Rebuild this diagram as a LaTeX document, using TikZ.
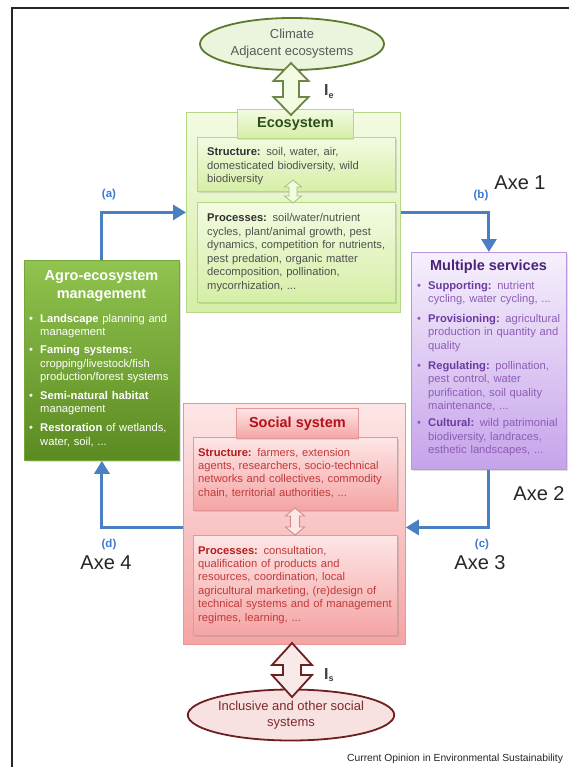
\documentclass[tikz,border=0pt]{standalone}
\usepackage{fontspec}
\setmainfont{Liberation Sans}
\usetikzlibrary{shapes.geometric,arrows.meta,shadows,calc}
\definecolor{ecoT}{HTML}{F3FBE2}
\definecolor{ecoB}{HTML}{D6EEA6}
\definecolor{ecoLine}{HTML}{B3D888}
\definecolor{ecoTitle}{HTML}{2C4F1C}
\definecolor{ecoTxt}{HTML}{505050}
\definecolor{ecoBold}{HTML}{303030}
\definecolor{agroT}{HTML}{90C34F}
\definecolor{agroB}{HTML}{5B8A21}
\definecolor{agroLine}{HTML}{76A63A}
\definecolor{msT}{HTML}{F6F0FC}
\definecolor{msB}{HTML}{C6A3EA}
\definecolor{msLine}{HTML}{B895DD}
\definecolor{msTitle}{HTML}{4A2378}
\definecolor{msBold}{HTML}{6B3AA2}
\definecolor{msTxt}{HTML}{8C5DB6}
\definecolor{socT}{HTML}{FDE6E6}
\definecolor{socB}{HTML}{F5A4A4}
\definecolor{socLine}{HTML}{E69696}
\definecolor{socTitle}{HTML}{B3121B}
\definecolor{socBold}{HTML}{B51C1C}
\definecolor{socTxt}{HTML}{C23A3A}
\definecolor{ellG}{HTML}{EBF4DD}
\definecolor{ellGLine}{HTML}{5C7A2E}
\definecolor{ellR}{HTML}{F7E1E1}
\definecolor{ellRLine}{HTML}{6E1F1F}
\definecolor{ellRTxt}{HTML}{7D2B2B}
\definecolor{blueArr}{HTML}{4A7FC1}
\definecolor{blueLbl}{HTML}{3C7BD0}
\newcommand{\bitem}[1]{\hangindent=11pt\hangafter=1 \makebox[11pt][l]{\textbullet}#1}
\newcommand{\fatdarrow}[7]{%
  \draw[#1] (#2,#3) -- (#2+#5/2,#3+#7) -- (#2+#6/2,#3+#7) -- (#2+#6/2,#4-#7)
   -- (#2+#5/2,#4-#7) -- (#2,#4) -- (#2-#5/2,#4-#7) -- (#2-#6/2,#4-#7)
   -- (#2-#6/2,#3+#7) -- (#2-#5/2,#3+#7) -- cycle;}
\begin{document}
\begin{tikzpicture}[x=1pt,y=-1pt,
  every node/.style={inner sep=0pt},
  box/.style={draw, rectangle, anchor=north west, line width=0.8pt},
  ecobox/.style={box, draw=ecoLine, top color=ecoT, bottom color=ecoB},
  ecoinner/.style={ecobox, drop shadow={opacity=0.25, shadow xshift=1.2pt, shadow yshift=-1.5pt}},
  socbox/.style={box, draw=socLine, top color=socT, bottom color=socB},
  socinner/.style={socbox, drop shadow={opacity=0.25, shadow xshift=1.2pt, shadow yshift=-1.5pt}},
  body/.style={anchor=base west, font=\fontsize{11.2}{13.4}\selectfont,
    execute at begin node={\parindent=0pt\raggedright}},
  titlef/.style={font=\fontsize{14.5}{18}\selectfont\bfseries},
  bluearr/.style={draw=blueArr, line width=3pt, -{Triangle[length=13pt,width=15pt]}},
  bluelbl/.style={font=\fontsize{11.5}{12}\selectfont\bfseries, text=blueLbl},
  axe/.style={font=\fontsize{20}{22}\selectfont, text=black!85},
  fatG/.style={draw=ellGLine!90, line width=1.8pt, fill=ecoT, line join=miter},
  fatR/.style={draw=ellRLine, line width=1.8pt, fill=ellR!70, line join=miter},
  smallG/.style={draw=ecoLine!90!black, line width=0.8pt, fill=ecoT},
  smallR/.style={draw=socLine!90!black, line width=0.8pt, fill=socT}
]
\useasboundingbox (0,0) rectangle (568,767);
\fill[white] (0,0) rectangle (568,767);
\draw[line width=2pt, black!85] (12,768) -- (12,8) -- (569,8);

% ---------- Ecosystem ----------
\node[ecobox, minimum width=214, minimum height=200] (eco) at (186,112) {};
\node[ecoinner, minimum width=198, minimum height=54] (es) at (197,137) {};
\node[ecoinner, minimum width=198, minimum height=100] (ep) at (197,202) {};
\node[ecobox, minimum width=116, minimum height=29, drop shadow={opacity=0.2, shadow xshift=1pt, shadow yshift=-1.2pt}] (ecot) at (237,109) {};
\node[titlef, text=ecoTitle] (ecotitle) at (ecot.center) {Ecosystem};
\node[body, text width=192, text=ecoTxt] (estxt) at (207,156)
  {\textcolor{ecoBold}{\textbf{Structure:}} soil, water, air,\newline domesticated biodiversity, wild\newline biodiversity};
\node[body, text width=192, text=ecoTxt] (eptxt) at (207,222)
  {\textcolor{ecoBold}{\textbf{Processes:}} soil/water/nutrient\newline cycles, plant/animal growth, pest\newline dynamics, competition for nutrients,\newline pest predation, organic matter\newline decomposition, pollination,\newline mycorrhization, ...};
\fatdarrow{smallG}{293}{180}{203}{17}{8}{7}

% ---------- Agro-ecosystem management ----------
\node[box, draw=agroLine, top color=agroT, bottom color=agroB, minimum width=155, minimum height=200,
  drop shadow={opacity=0.25, shadow xshift=1.2pt, shadow yshift=-1.5pt}] (agro) at (24,260) {};
\node[titlef, text=white, align=center] (agrotitle) at (101.5,286) {Agro-ecosystem\\management};
\node[body, text width=152, text=white] (agrotxt) at (29,322)
  {\bitem{\textbf{Landscape} planning and\newline management}\par\vspace{5pt}%
   \bitem{\textbf{Faming systems:}\newline cropping/livestock/fish\newline production/forest systems}\par\vspace{5.5pt}%
   \bitem{\textbf{Semi-natural habitat}\newline management}\par\vspace{5.5pt}%
   \bitem{\textbf{Restoration} of wetlands,\newline water, soil, ...}\par};

% ---------- Multiple services ----------
\node[box, draw=msLine, top color=msT, bottom color=msB, minimum width=155, minimum height=217,
  drop shadow={opacity=0.25, shadow xshift=1.2pt, shadow yshift=-1.5pt}] (ms) at (411,252) {};
\node[titlef, text=msTitle, anchor=base] (mstitle) at (488.5,270) {Multiple services};
\node[body, text width=160, text=msTxt] (mstxt) at (417,289)
  {\bitem{\textcolor{msBold}{\textbf{Supporting:}} nutrient\newline cycling, water cycling, ...}\par\vspace{6.5pt}%
   \bitem{\textcolor{msBold}{\textbf{Provisioning:}} agricultural\newline production in quantity and\newline quality}\par\vspace{7pt}%
   \bitem{\textcolor{msBold}{\textbf{Regulating:}} pollination,\newline pest control, water\newline purification, soil quality\newline maintenance, ...}\par\vspace{3.5pt}%
   \bitem{\textcolor{msBold}{\textbf{Cultural:}} wild patrimonial\newline biodiversity, landraces,\newline esthetic landscapes, ...}\par};

% ---------- Social system ----------
\node[socbox, minimum width=222, minimum height=241] (soc) at (183,403) {};
\node[socinner, minimum width=204, minimum height=73] (ss) at (193,437) {};
\node[socinner, minimum width=204, minimum height=100] (sp) at (193,535) {};
\node[socbox, minimum width=122, minimum height=30, drop shadow={opacity=0.2, shadow xshift=1pt, shadow yshift=-1.2pt}] (soct) at (236,408) {};
\node[titlef, text=socTitle] (soctitle) at (soct.center) {Social system};
\node[body, text width=206, text=socTxt] (sstxt) at (198,456)
  {\textcolor{socBold}{\textbf{Structure:}} farmers, extension\newline agents, researchers, socio-technical\newline networks and collectives, commodity\newline chain, territorial authorities, ...};
\node[body, text width=206, text=socTxt] (sptxt) at (198,554)
  {\textcolor{socBold}{\textbf{Processes:}} consultation,\newline qualification of products and\newline resources, coordination, local\newline agricultural marketing, (re)design of\newline technical systems and of management\newline regimes, learning, ...};
\fatdarrow{smallR}{295}{508}{535}{19}{9}{8}

% ---------- Ellipses and fat arrows ----------
\node[ellipse, draw=ellGLine, line width=1.8pt, fill=ellG, minimum width=184, minimum height=52,
  align=center, font=\fontsize{13}{17}\selectfont, text=black!65] (clim) at (292,44) {Climate\\Adjacent ecosystems};
\fatdarrow{fatG}{291}{63}{115}{35}{16}{18}
\node[font=\fontsize{16}{16}\selectfont\bfseries, text=black!75, anchor=base west] (ie) at (324,96) {I\textsubscript{\fontsize{9}{9}\selectfont\bfseries e}};

\node[ellipse, draw=ellRLine, line width=1.8pt, fill=ellR, minimum width=193, minimum height=51,
  align=center, font=\fontsize{13}{16}\selectfont, text=ellRTxt] (incl) at (291,715) {Inclusive and other social\\systems};
\fatdarrow{fatR}{292}{643}{697}{40}{18}{22}
\node[font=\fontsize{16}{16}\selectfont\bfseries, text=black!75, anchor=base west] (is) at (324,679) {I\textsubscript{\fontsize{9}{9}\selectfont\bfseries s}};

% ---------- Blue feedback arrows ----------
\draw[bluearr] (agro.north) |- (eco.west);
\draw[bluearr] (eco.east) -| (ms.north);
\coordinate (cin) at ($(soc.east)+(0,3.5)$);
\coordinate (din) at ($(soc.west)+(0,3.5)$);
\draw[bluearr] (ms.south) |- (cin);
\draw[bluearr] (din) -| (agro.south);

\node[bluelbl] (la) at (109,195) {(a)};
\node[bluelbl] (lb) at (481,196) {(b)};
\node[bluelbl] (lc) at (482,545) {(c)};
\node[bluelbl] (ld) at (109,545) {(d)};
\node[axe] (axe1) at (520,183) {Axe 1};
\node[axe] (axe2) at (539,494) {Axe 2};
\node[axe] (axe3) at (480,563) {Axe 3};
\node[axe] (axe4) at (106,563) {Axe 4};

\begin{scope}
\clip (0,0) rectangle (568,767);
\node[anchor=base west, font=\fontsize{10.3}{12}\selectfont, text=black!85] (src) at (347,761) {Current Opinion in Environmental Sustainability};
\end{scope}
\end{tikzpicture}
\end{document}
